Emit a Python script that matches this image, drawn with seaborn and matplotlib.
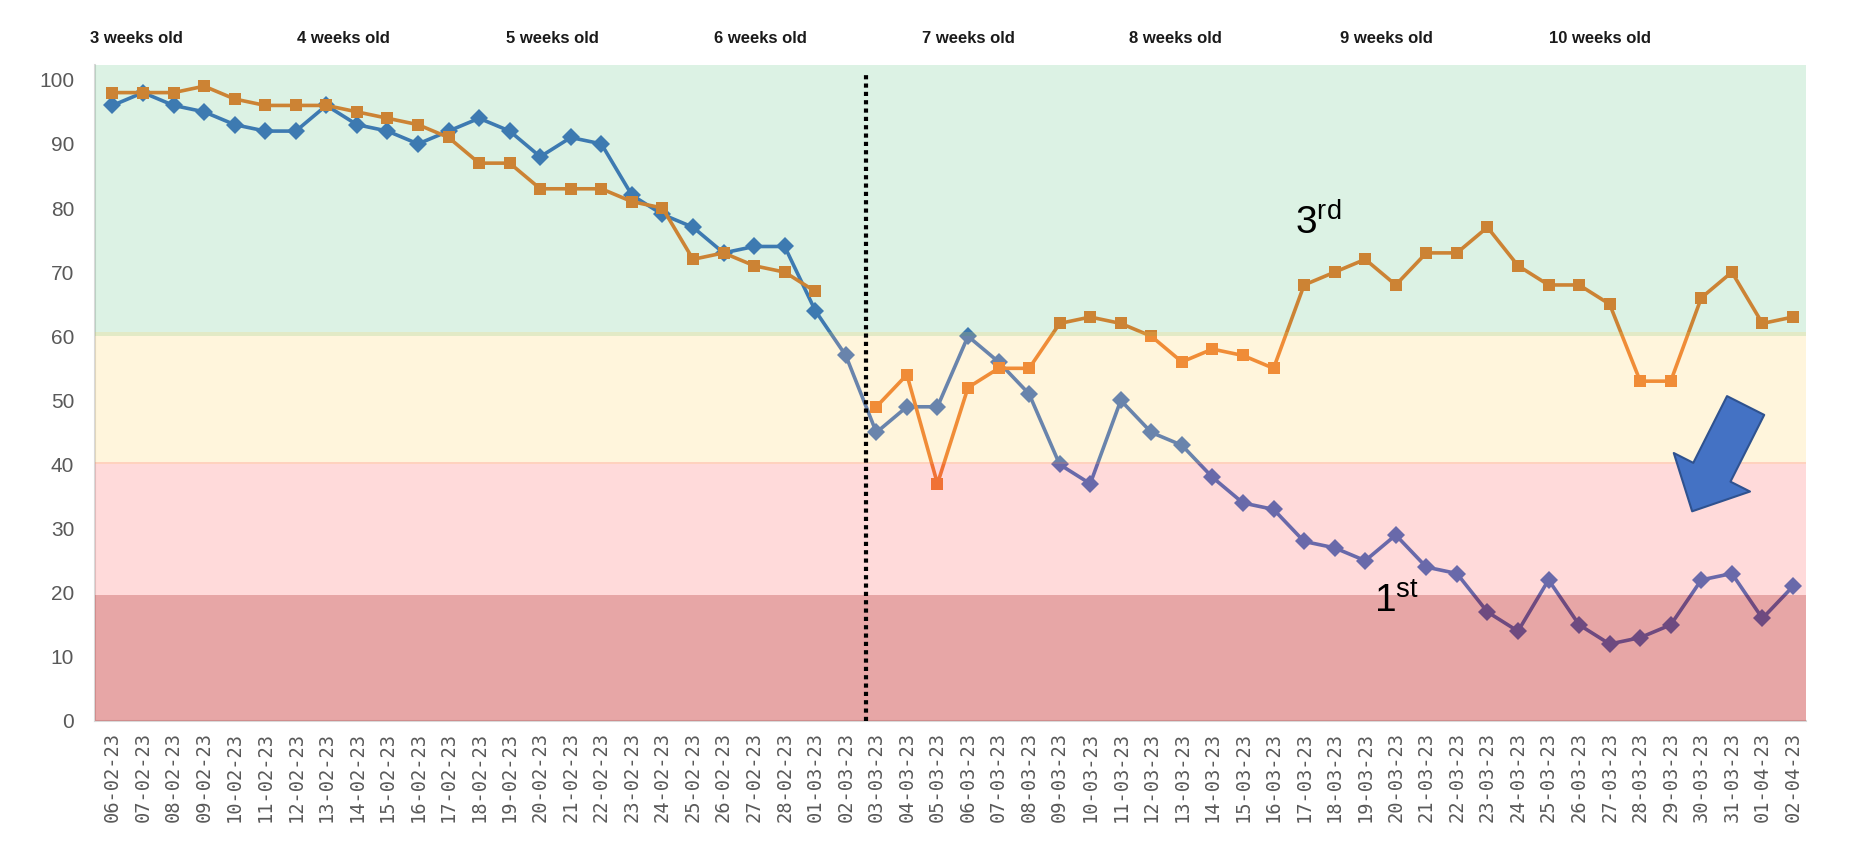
import numpy as np
import pandas as pd
import matplotlib
matplotlib.use("Agg")
import matplotlib.pyplot as plt
import seaborn as sns
from matplotlib.patches import FancyArrowPatch

dates = ["06-02-23", "07-02-23", "08-02-23", "09-02-23", "10-02-23", "11-02-23", "12-02-23",
         "13-02-23", "14-02-23", "15-02-23", "16-02-23", "17-02-23", "18-02-23", "19-02-23",
         "20-02-23", "21-02-23", "22-02-23", "23-02-23", "24-02-23", "25-02-23", "26-02-23",
         "27-02-23", "28-02-23", "01-03-23", "02-03-23", "03-03-23", "04-03-23", "05-03-23",
         "06-03-23", "07-03-23", "08-03-23", "09-03-23", "10-03-23", "11-03-23", "12-03-23",
         "13-03-23", "14-03-23", "15-03-23", "16-03-23", "17-03-23", "18-03-23", "19-03-23",
         "20-03-23", "21-03-23", "22-03-23", "23-03-23", "24-03-23", "25-03-23", "26-03-23",
         "27-03-23", "28-03-23", "29-03-23", "30-03-23", "31-03-23", "01-04-23", "02-04-23"]

first = [96, 98, 96, 95, 93, 92, 92, 96, 93, 92, 90, 92, 94, 92, 88, 91, 90, 82, 79, 77,
         73, 74, 74, 64, 57, 45, 49, 49, 60, 56, 51, 40, 37, 50, 45, 43, 38, 34, 33, 28,
         27, 25, 29, 24, 23, 17, 14, 22, 15, 12, 13, 15, 22, 23, 16, 21]

third = [98, 98, 98, 99, 97, 96, 96, 96, 95, 94, 93, 91, 87, 87, 83, 83, 83, 81, 80, 72,
         73, 71, 70, 67, None, 49, 54, 37, 52, 55, 55, 62, 63, 62, 60, 56, 58, 57, 55, 68,
         70, 72, 68, 73, 73, 77, 71, 68, 68, 65, 53, 53, 66, 70, 62, 63]

week_labels = ["3 weeks old", "4 weeks old", "5 weeks old", "6 weeks old",
               "7 weeks old", "8 weeks old", "9 weeks old", "10 weeks old"]
week_pos = [0.78, 7.56, 14.4, 21.2, 28.0, 34.8, 41.7, 48.7]

y_ticks = [0, 10, 20, 30, 40, 50, 60, 70, 80, 90, 100]

sns.set_theme(style="white")
plt.rcParams["font.family"] = ["Liberation Sans", "DejaVu Sans"]

fig = plt.figure(figsize=(18.57, 8.58), dpi=100)
fig.patch.set_facecolor("white")
ax = fig.add_axes([0.0512, 0.1597, 0.9214, 0.7645])

idx = np.arange(len(dates))
df1 = pd.DataFrame({"x": idx, "y": first})
df3 = pd.DataFrame({"x": idx, "y": pd.to_numeric(pd.Series(third), errors="coerce")})
df3["seg"] = df3["y"].isna().cumsum()
df3 = df3.dropna()

sns.lineplot(data=df1, x="x", y="y", color="#4472C4", marker="D", markersize=9.5,
             markeredgewidth=0, linewidth=2.6, estimator=None, sort=False, ax=ax,
             legend=False, zorder=2)
sns.lineplot(data=df3, x="x", y="y", units="seg", color="#ED7D31", marker="s",
             markersize=8.5, markeredgewidth=0, linewidth=2.6, estimator=None,
             sort=False, ax=ax, legend=False, zorder=2)

# translucent bands drawn over the lines (as in the reference)
ax.axhspan(60.0, 102.3, color="#16A84B", alpha=0.15, lw=0, zorder=3)
ax.axhspan(40.0, 60.6, color="#FFCD50", alpha=0.2, lw=0, zorder=3)
ax.axhspan(19.7, 40.4, color="#FF4646", alpha=0.2, lw=0, zorder=3)
ax.axhspan(0.0, 19.7, color="#BD0101", alpha=0.35, lw=0, zorder=3)

ax.vlines(24.65, 0, 100.7, colors="black", linestyles=(0, (1, 1)), linewidth=3, zorder=4)

ax.set_xlim(-0.57, 55.43)
ax.set_ylim(0, 102.3)
ax.set_xlabel("")
ax.set_ylabel("")
ax.set_xticks(idx)
ax.set_xticklabels(dates, rotation=90, fontfamily="DejaVu Sans Mono", fontsize=13.5,
                   color="#595959")
ax.set_yticks(y_ticks)
ax.set_yticklabels([str(v) for v in y_ticks], fontsize=15, color="#595959")
ax.tick_params(axis="x", length=0, pad=8)
ax.tick_params(axis="y", length=0, pad=15)
for s in ["top", "right"]:
    ax.spines[s].set_visible(False)
for s in ["left", "bottom"]:
    ax.spines[s].set_color("#D9D9D9")
    ax.spines[s].set_linewidth(1.5)

for lab, xp in zip(week_labels, week_pos):
    ax.text(xp, 106.4, lab, ha="center", va="center", fontsize=12, fontweight="bold",
            color="#1a1a1a", clip_on=False, zorder=5)

ax.text(38.7, 75.8, r"3$^{\mathregular{rd}}$", ha="left", va="baseline", fontsize=28,
        color="black", zorder=6)
ax.text(41.3, 17.0, r"1$^{\mathregular{st}}$", ha="left", va="baseline", fontsize=28,
        color="black", zorder=6)

arrow = FancyArrowPatch((53.45, 49.2), (51.7, 32.7),
                        arrowstyle="simple,head_length=1.05,head_width=2.05,tail_width=1.0",
                        mutation_scale=30, fc="#4472C4", ec="#2F528F", lw=1.5,
                        shrinkA=0, shrinkB=0, zorder=6)
ax.add_patch(arrow)

fig.savefig("out.png", dpi=100)
